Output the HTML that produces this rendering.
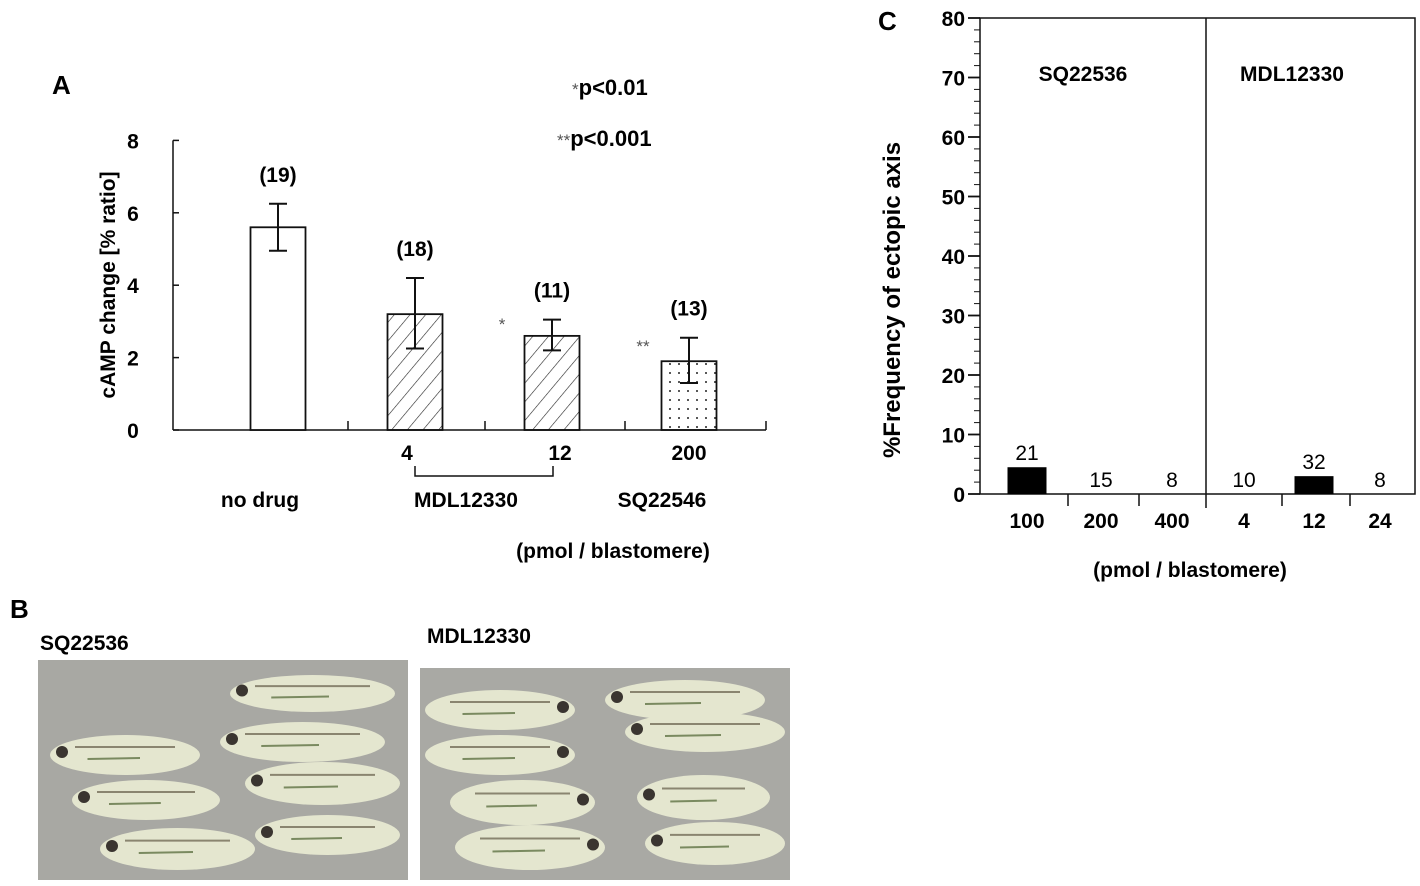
<!DOCTYPE html>
<html><head><meta charset="utf-8"><style>
html,body{margin:0;padding:0;background:#fff;}
svg{display:block;font-family:"Liberation Sans",Arial,sans-serif;font-weight:bold;}
</style></head><body>
<svg id="fig" width="1420" height="886" viewBox="0 0 1420 886">
<defs>
<pattern id="hatch" width="12" height="12" patternUnits="userSpaceOnUse" patternTransform="rotate(40)">
<line x1="0" y1="0" x2="0" y2="12" stroke="#222" stroke-width="1.2"/></pattern>
<pattern id="dots" width="9" height="9" patternUnits="userSpaceOnUse"><circle cx="4" cy="4" r="1" fill="#222"/></pattern>
</defs>
<text x="52" y="94" font-size="26">A</text>
<text x="572" y="95" font-size="22"><tspan font-weight="normal" font-size="17" fill="#555">*</tspan>p&lt;0.01</text>
<text x="557" y="146" font-size="22"><tspan font-weight="normal" font-size="17" fill="#555">**</tspan>p&lt;0.001</text>
<text transform="translate(115,285) rotate(-90)" text-anchor="middle" font-size="21">cAMP change [% ratio]</text>
<g id="chartA"></g>
<text x="260" y="507" text-anchor="middle" font-size="21">no drug</text>
<text x="466" y="507" text-anchor="middle" font-size="21">MDL12330</text>
<text x="662" y="507" text-anchor="middle" font-size="21">SQ22546</text>
<path d="M415 466 V476 H553 V466" fill="none" stroke="#111" stroke-width="1.5"/>
<text x="613" y="558" text-anchor="middle" font-size="21">(pmol / blastomere)</text>

<text x="878" y="30" font-size="26">C</text>
<text transform="translate(900,300) rotate(-90)" text-anchor="middle" font-size="24">%Frequency of ectopic axis</text>
<g id="chartC"></g>
<text x="1083" y="81" text-anchor="middle" font-size="21">SQ22536</text>
<text x="1292" y="81" text-anchor="middle" font-size="21">MDL12330</text>
<text x="1190" y="577" text-anchor="middle" font-size="21">(pmol / blastomere)</text>

<text x="10" y="618" font-size="26">B</text>
<text x="40" y="650" font-size="21">SQ22536</text>
<text x="427" y="643" font-size="21">MDL12330</text>
<g id="photos">
<rect x="38" y="660" width="370" height="220" fill="#a8a8a3"/>
<rect x="420" y="668" width="370" height="212" fill="#a9a9a4"/>
</g>
<script>
var NS="http://www.w3.org/2000/svg";
function mk(t,a,p){var e=document.createElementNS(NS,t);for(var k in a)e.setAttribute(k,a[k]);p.appendChild(e);return e;}
var aCats=["no drug","4","12","200"];
var aVals=[5.6,3.2,2.6,1.9];
var aLow=[4.95,2.25,2.2,1.3];
var aHigh=[6.25,4.2,3.05,2.55];
var aN=["(19)","(18)","(11)","(13)"];
var aDoseLabels=["","4","12","200"];
var aYTicks=[0,2,4,6,8];
var aFills=["#fff","url(#hatch)","url(#hatch)","url(#dots)"];
var gA=document.getElementById("chartA");
var ax0=173,ax1=766,ay0=430,ayPer=36.2;
function yA(v){return ay0-v*ayPer;}
var aCenters=[278,415,552,689];
function xA(i){return aCenters[0]+i*((aCenters[3]-aCenters[0])/3);}
var l=mk("line",{x1:ax0,y1:yA(8),x2:ax0,y2:ay0,stroke:"#111","stroke-width":1.5},gA);


l=mk("line",{x1:ax0,y1:ay0,x2:ax1,y2:ay0,stroke:"#111","stroke-width":1.5},gA);


[348,485,625,766].forEach(function(x){var t=mk("line",{x1:x,y1:ay0,x2:x,y2:ay0-9,stroke:"#111","stroke-width":1.5},gA);

});
aYTicks.forEach(function(v){
var t=mk("line",{x1:ax0,y1:yA(v),x2:ax0+6,y2:yA(v),stroke:"#111","stroke-width":1.5},gA);


var tx=mk("text",{x:133,y:yA(v)+8,"text-anchor":"middle","font-size":21},gA);tx.textContent=v;

});
aVals.forEach(function(v,i){
var cx=xA(i),w=55;
var b=mk("rect",{x:cx-w/2,y:yA(v),width:w,height:ay0-yA(v),fill:aFills[i],stroke:"#111","stroke-width":1.8},gA);


var e=mk("path",{d:"M"+(cx-9)+" "+yA(aHigh[i])+"H"+(cx+9)+"M"+cx+" "+yA(aHigh[i])+"V"+yA(aLow[i])+"M"+(cx-9)+" "+yA(aLow[i])+"H"+(cx+9),stroke:"#111","stroke-width":2,fill:"none"},gA);


var n=mk("text",{x:cx,y:yA(aHigh[i])-22,"text-anchor":"middle","font-size":21},gA);n.textContent=aN[i];


if(aDoseLabels[i]){var d=mk("text",{x:cx-(i==1?8:(i==2?-8:0)),y:460,"text-anchor":"middle","font-size":21},gA);d.textContent=aDoseLabels[i];

}
});
var s1=mk("text",{x:502,y:330,"text-anchor":"middle","font-size":17,fill:"#555","font-weight":"normal"},gA);s1.textContent="*";


var s2=mk("text",{x:643,y:352,"text-anchor":"middle","font-size":17,fill:"#555","font-weight":"normal"},gA);s2.textContent="**";



var cDoses=["100","200","400","4","12","24"];
var cVals=[4.5,0,0,0,3,0];
var cN=["21","15","8","10","32","8"];
var cYTicks=[0,10,20,30,40,50,60,70,80];
var gC=document.getElementById("chartC");
var cx0=980,cx1=1415,cy0=494,cyTop=18;
function yC(v){return cy0-v*(cy0-cyTop)/80;}
var cCenters=[1027,1101,1172,1244,1314,1380];
function xC(i){return cCenters[i];}
var box=mk("rect",{x:cx0,y:cyTop,width:cx1-cx0,height:cy0-cyTop,fill:"none",stroke:"#111","stroke-width":1.5},gC);


var dv=mk("line",{x1:1206,y1:cyTop,x2:1206,y2:cy0+14,stroke:"#111","stroke-width":1.5},gC);


[1068,1139,1282,1350].forEach(function(x){var t=mk("line",{x1:x,y1:cy0,x2:x,y2:cy0+12,stroke:"#111","stroke-width":1.5},gC);

});
for(var v=0;v<=80;v+=2){var big=v%10==0;var t=mk("line",{x1:cx0-(big?12:6),y1:yC(v),x2:cx0,y2:yC(v),stroke:"#111","stroke-width":big?1.8:1},gC);

}
cYTicks.forEach(function(v){var tx=mk("text",{x:cx0-15,y:yC(v)+8,"text-anchor":"end","font-size":21},gC);tx.textContent=v;

});
cVals.forEach(function(v,i){
var cx=xC(i),w=39;
if(v>0){var b=mk("rect",{x:cx-w/2,y:yC(v),width:w,height:cy0-yC(v),fill:"#000"},gC);

}
var n=mk("text",{x:cx,y:yC(v)-7,"text-anchor":"middle","font-size":21,"font-weight":"normal"},gC);n.textContent=cN[i];


var d=mk("text",{x:cx,y:528,"text-anchor":"middle","font-size":21},gC);d.textContent=cDoses[i];


});

var gP=document.getElementById("photos");
var emb=[[230,395,675,712,1],[50,200,735,775,1],[220,385,722,762,1],[72,220,780,820,1],[245,400,762,805,1],[100,255,828,870,1],[255,400,815,855,1],
[425,575,690,730,0],[425,575,735,775,0],[605,765,680,720,1],[625,785,712,752,1],[450,595,780,825,0],[455,605,825,870,0],[637,770,775,820,1],[645,785,822,865,1]];
emb.forEach(function(e,i){
var cx=(e[0]+e[1])/2,cy=(e[2]+e[3])/2,rx=(e[1]-e[0])/2,ry=(e[3]-e[2])/2;
var el=mk("ellipse",{cx:cx,cy:cy,rx:rx,ry:ry,fill:"#e4e6cf"},gP);


var hx=e[4]?e[0]+12:e[1]-12;
mk("circle",{cx:hx,cy:cy-3,r:6,fill:"#3a3530"},gP);
mk("line",{x1:e[0]+25,y1:cy-ry*0.4,x2:e[1]-25,y2:cy-ry*0.4,stroke:"#8a8570","stroke-width":2},gP);
mk("line",{x1:cx-rx*0.5,y1:cy+4,x2:cx+rx*0.2,y2:cy+3,stroke:"#7a8a60","stroke-width":2},gP);
});
</script>
</svg>
</body></html>
